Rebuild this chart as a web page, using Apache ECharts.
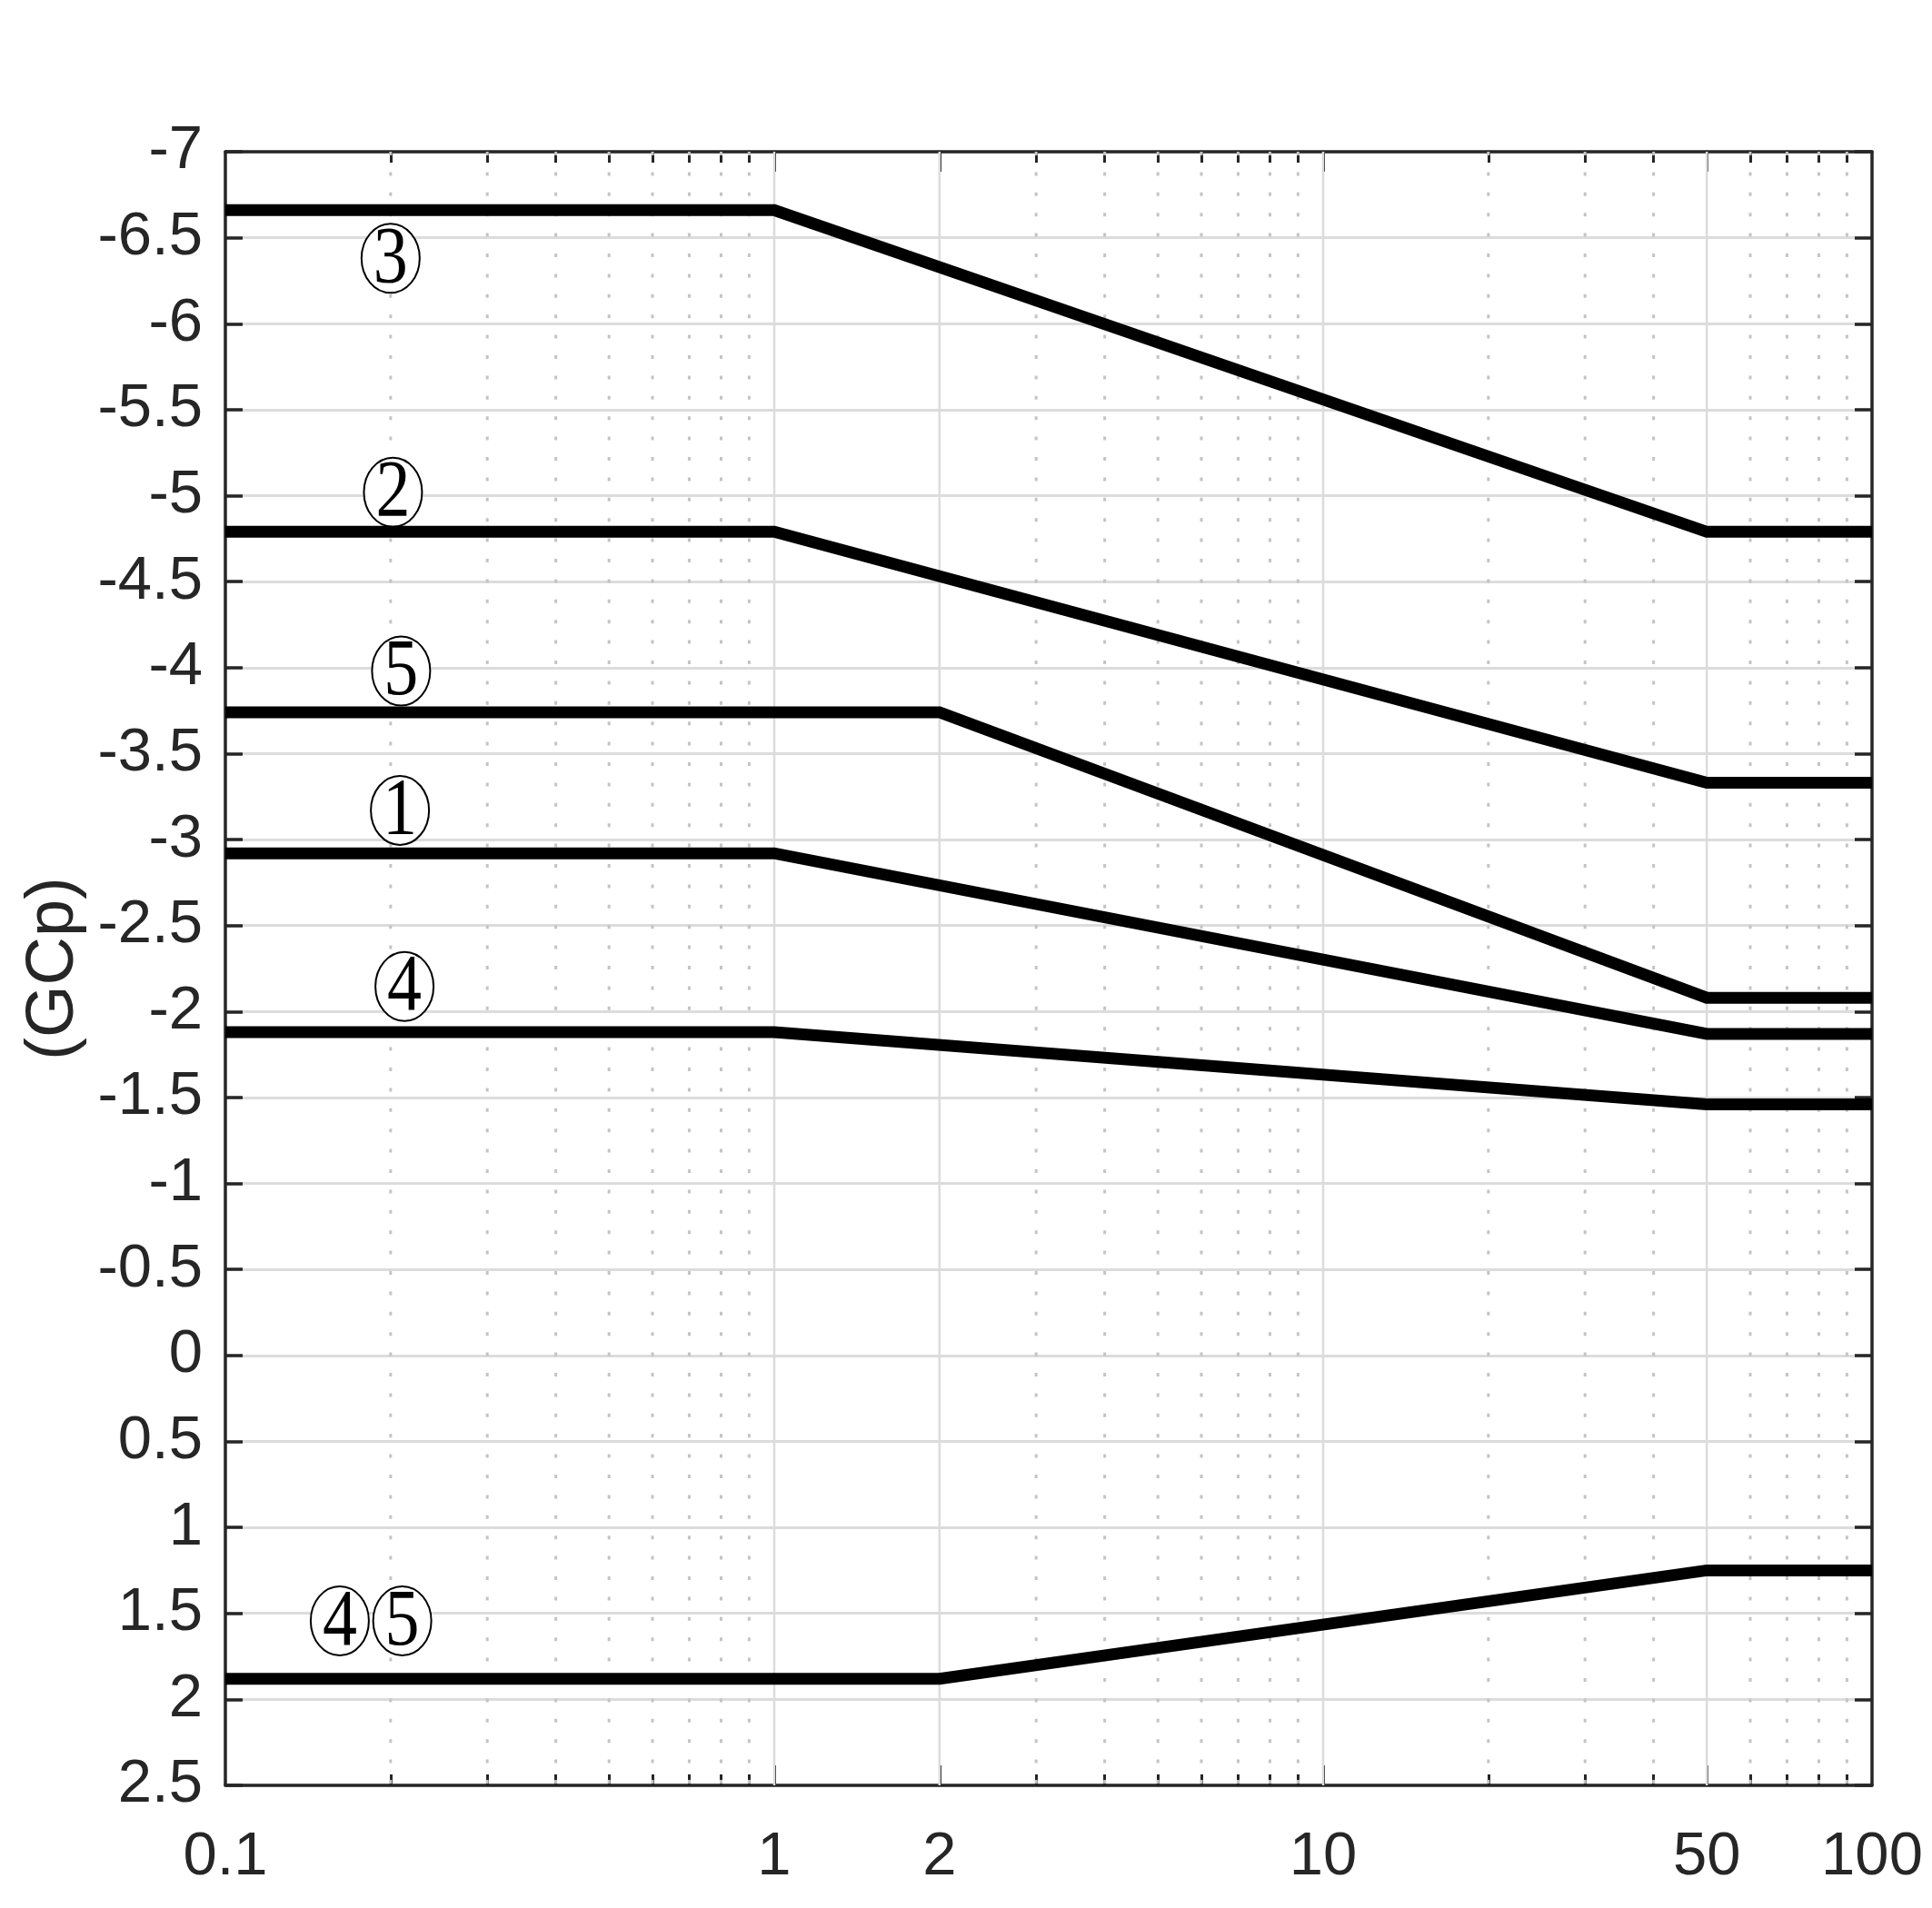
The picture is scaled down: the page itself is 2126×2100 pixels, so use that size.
<!DOCTYPE html>
<html>
<head>
<meta charset="utf-8">
<script src="https://cdn.jsdelivr.net/npm/echarts@6/dist/echarts.min.js"></script>
<style>
  html, body { margin: 0; padding: 0; background: #fff; }
  #chart { width: 2126px; height: 2100px; }
</style>
</head>
<body>
<div id="chart"></div>
<script>
// ---- data ----
const xBreaksA = [0.1, 1, 50, 100];      // curves 1,2,3,4
const xBreaksB = [0.1, 2, 50, 100];      // curves 5 and 4-5 (positive)
const zone1 = [-2.92, -2.92, -1.87, -1.87];
const zone2 = [-4.79, -4.79, -3.33, -3.33];
const zone3 = [-6.66, -6.66, -4.79, -4.79];
const zone4 = [-1.88, -1.88, -1.46, -1.46];
const zone5 = [-3.74, -3.74, -2.08, -2.08];
const zone45pos = [1.88, 1.88, 1.25, 1.25];

const xLabelValues = [0.1, 1, 2, 10, 50, 100];
const xMajorTicks = [1, 2, 10, 50];
const xMinorTicks = [0.2, 0.3, 0.4, 0.5, 0.6, 0.7, 0.8, 0.9, 3, 4, 5, 6, 7, 8, 9, 20, 30, 40, 60, 70, 80, 90];

const tagText = ['3', '2', '5', '1', '4', '4', '5'];   // circled zone numbers
const tagX = [0.2, 0.202, 0.209, 0.208, 0.212, 0.1616, 0.21];
const tagY = [-6.38, -5.02, -3.98, -3.17, -2.146, 1.544, 1.544];

const yMin = -7, yMax = 2.5, yStep = 0.5;

// ---- chart ----
const chart = echarts.init(document.getElementById('chart'), null, { renderer: 'canvas' });
const AX = '#262626';
const labelFont = "'Liberation Sans', Arial, sans-serif";

function zip(xs, ys) { return xs.map((x, i) => [x, ys[i]]); }

function lineSeries(name, xs, ys) {
  return {
    name, type: 'line', xAxisIndex: 0, yAxisIndex: 0,
    data: zip(xs, ys), symbol: 'none', silent: true, z: 5,
    lineStyle: { color: '#000', width: 13, cap: 'butt', join: 'miter' }
  };
}

function xAxisCfg(position, ticks, len, showLine, showLabel) {
  return {
    type: 'log', logBase: 10, min: 0.1, max: 100, position,
    axisLine: { show: showLine, onZero: false, lineStyle: { color: AX, width: 3.5 } },
    axisTick: { show: true, inside: true, length: len, customValues: ticks, lineStyle: { color: AX, width: 3 } },
    axisLabel: showLabel ? {
      show: true, customValues: xLabelValues, color: AX, fontSize: 67, fontFamily: labelFont, margin: 46
    } : { show: false },
    splitLine: { show: false }, minorTick: { show: false }, minorSplitLine: { show: false }
  };
}

function yAxisCfg(position, showLabel, showSplit) {
  return {
    type: 'value', inverse: true, min: yMin, max: yMax, interval: yStep, position,
    name: showLabel ? '(GCp)' : '', nameLocation: 'middle', nameGap: 140, nameRotate: 90,
    nameTextStyle: { color: AX, fontSize: 74, fontFamily: labelFont },
    axisLine: { show: true, onZero: false, lineStyle: { color: AX, width: 3.5 } },
    axisTick: { show: true, inside: true, length: 19, lineStyle: { color: AX, width: 3.5 } },
    axisLabel: showLabel ? { show: true, color: AX, fontSize: 67, fontFamily: labelFont, margin: 25 } : { show: false },
    splitLine: { show: showSplit, lineStyle: { color: '#dcdcdc', width: 3 } }
  };
}

function vGrid(values, style) {
  return {
    type: 'custom', xAxisIndex: 0, yAxisIndex: 0, silent: true, z: 1,
    data: values.map(v => [v, yMin]),
    renderItem: (params, api) => {
      const x = api.value(0);
      const a = api.coord([x, yMin]);
      const b = api.coord([x, yMax]);
      return { type: 'line', shape: { x1: a[0], y1: a[1], x2: b[0], y2: b[1] }, style };
    }
  };
}

const option = {
  animation: false,
  backgroundColor: '#fff',
  grid: { left: 248, right: 66, top: 167, bottom: 135, containLabel: false },
  xAxis: [
    xAxisCfg('bottom', xMinorTicks, 12, true, true),
    xAxisCfg('bottom', xMajorTicks, 22, false, false),
    xAxisCfg('top', xMinorTicks, 12, true, false),
    xAxisCfg('top', xMajorTicks, 22, false, false)
  ],
  yAxis: [
    yAxisCfg('left', true, true),
    yAxisCfg('right', false, false)
  ],
  series: [
    vGrid(xMinorTicks, { stroke: '#c4c4c4', lineWidth: 3, lineDash: [4, 18.4] }),
    vGrid(xMajorTicks, { stroke: '#dcdcdc', lineWidth: 2.5 }),
    {
      type: 'custom', xAxisIndex: 0, yAxisIndex: 0, silent: true, z: 4,
      data: zip(tagX, tagY),
      renderItem: (params, api) => {
        const c = api.coord([api.value(0), api.value(1)]);
        return {
          type: 'group',
          children: [
            { type: 'ellipse', shape: { cx: c[0], cy: c[1], rx: 32, ry: 38 },
              style: { fill: '#fff', stroke: '#000', lineWidth: 2 } },
            { type: 'text', x: c[0], y: c[1] + 2, scaleY: 1.18,
              style: { text: tagText[params.dataIndex],
                       x: 0, y: 0, align: 'center', verticalAlign: 'middle',
                       fontSize: 76, fontFamily: "'Liberation Serif', 'DejaVu Serif', serif", fill: '#000' } }
          ]
        };
      }
    },
    lineSeries('zone3', xBreaksA, zone3),
    lineSeries('zone2', xBreaksA, zone2),
    lineSeries('zone5', xBreaksB, zone5),
    lineSeries('zone1', xBreaksA, zone1),
    lineSeries('zone4', xBreaksA, zone4),
    lineSeries('zone45', xBreaksB, zone45pos)
  ]
};
chart.setOption(option);
</script>
</body>
</html>
